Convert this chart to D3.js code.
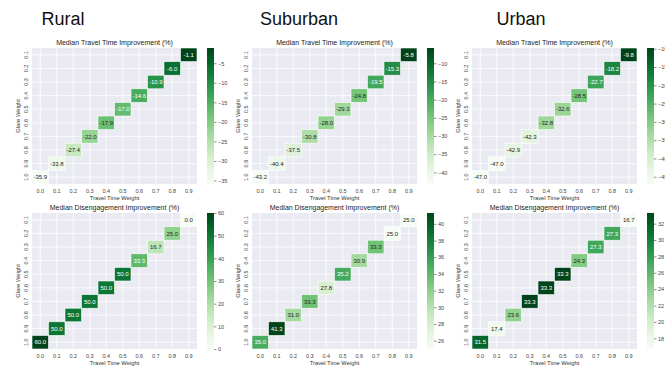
<!DOCTYPE html>
<html>
<head>
<meta charset="utf-8">
<script src="https://cdn.jsdelivr.net/npm/d3@7"></script>
<style>
  html, body { margin: 0; padding: 0; background: #fff; }
  svg { display: block; font-family: "Liberation Sans", Arial, sans-serif; }
</style>
</head>
<body>
<svg id="chart" width="665" height="366"></svg>
<script>
// Weights along each axis
const travelWeights = ["0.0", "0.1", "0.2", "0.3", "0.4", "0.5", "0.6", "0.7", "0.8", "0.9"];
const glareWeights = ["0.1", "0.2", "0.3", "0.4", "0.5", "0.6", "0.7", "0.8", "0.9", "1.0"];

const areas = ["Rural", "Suburban", "Urban"];

// Median travel time improvement (%) indexed by travel time weight 0.0 .. 0.9
const travelRural    = [-35.9, -33.8, -27.4, -22.0, -17.9, -17.0, -14.6, -10.9, -6.0, -1.1];
const travelSuburban = [-43.2, -40.4, -37.5, -30.8, -28.0, -29.3, -24.8, -19.5, -15.3, -5.8];
const travelUrban    = [-47.0, -47.0, -42.9, -42.3, -32.8, -32.6, -28.5, -22.7, -18.2, -9.8];

// Median disengagement improvement (%) indexed by travel time weight 0.0 .. 0.9
const disRural    = [60.0, 50.0, 50.0, 50.0, 50.0, 50.0, 33.3, 16.7, 25.0, 0.0];
const disSuburban = [35.0, 41.3, 31.0, 33.3, 27.8, 35.2, 30.9, 33.3, 25.0, 25.0];
const disUrban    = [31.5, 17.4, 23.6, 33.3, 33.3, 33.3, 24.3, 27.3, 27.3, 16.7];

// Colour bar tick values
const cbTicksTravelRural    = [-5, -10, -15, -20, -25, -30, -35];
const cbTicksTravelSuburban = [-10, -15, -20, -25, -30, -35, -40];
const cbTicksTravelUrban    = [-10, -15, -20, -25, -30, -35, -40, -45];
const cbTicksDisRural       = [0, 10, 20, 30, 40, 50, 60];
const cbTicksDisSuburban    = [26, 28, 30, 32, 34, 36, 38, 40];
const cbTicksDisUrban       = [18, 20, 22, 24, 26, 28, 30, 32];

const panels = [
  { col: 0, row: 0, title: "Median Travel Time Improvement (%)", values: travelRural, ticks: cbTicksTravelRural },
  { col: 1, row: 0, title: "Median Travel Time Improvement (%)", values: travelSuburban, ticks: cbTicksTravelSuburban },
  { col: 2, row: 0, title: "Median Travel Time Improvement (%)", values: travelUrban, ticks: cbTicksTravelUrban },
  { col: 0, row: 1, title: "Median Disengagement Improvement (%)", values: disRural, ticks: cbTicksDisRural },
  { col: 1, row: 1, title: "Median Disengagement Improvement (%)", values: disSuburban, ticks: cbTicksDisSuburban },
  { col: 2, row: 1, title: "Median Disengagement Improvement (%)", values: disUrban, ticks: cbTicksDisUrban }
];

const svg = d3.select("#chart");

// Layout
const plotW = 165, plotH = 136;
const colX = c => 32 + 220 * c;
const rowY = r => [48, 213][r];
const areaCenters = [63, 299, 521];

// Area headings
svg.selectAll("text.area")
  .data(areas)
  .join("text")
  .attr("class", "area")
  .attr("x", (d, i) => areaCenters[i])
  .attr("y", 25)
  .attr("text-anchor", "middle")
  .attr("font-size", 18)
  .attr("fill", "#111")
  .text(d => d);

function luminance(c) {
  const rgb = d3.rgb(c);
  const f = v => { v /= 255; return v <= 0.03928 ? v / 12.92 : Math.pow((v + 0.055) / 1.055, 2.4); };
  return 0.2126 * f(rgb.r) + 0.7152 * f(rgb.g) + 0.0722 * f(rgb.b);
}

panels.forEach(p => {
  const x0 = colX(p.col), y0 = rowY(p.row);
  const g = svg.append("g").attr("transform", `translate(${x0},${y0})`);

  const x = d3.scaleBand().domain(travelWeights).range([0, plotW]);
  const y = d3.scaleBand().domain(glareWeights).range([0, plotH]);
  const ext = d3.extent(p.values);
  const color = d3.scaleSequential(d3.interpolateGreens).domain(ext);

  // Background and grid
  g.append("rect").attr("width", plotW).attr("height", plotH).attr("fill", "#eaeaf2");
  g.selectAll("line.vg").data(travelWeights).join("line")
    .attr("x1", d => x(d) + x.bandwidth() / 2).attr("x2", d => x(d) + x.bandwidth() / 2)
    .attr("y1", 0).attr("y2", plotH).attr("stroke", "#fff").attr("stroke-width", 0.8);
  g.selectAll("line.hg").data(glareWeights).join("line")
    .attr("y1", d => y(d) + y.bandwidth() / 2).attr("y2", d => y(d) + y.bandwidth() / 2)
    .attr("x1", 0).attr("x2", plotW).attr("stroke", "#fff").attr("stroke-width", 0.8);

  // Cells: glare weight + travel weight = 1
  const cells = p.values.map((v, i) => ({ tw: travelWeights[i], gw: glareWeights[9 - i], v }));
  g.selectAll("rect.cell").data(cells).join("rect")
    .attr("x", d => x(d.tw)).attr("y", d => y(d.gw))
    .attr("width", x.bandwidth()).attr("height", y.bandwidth())
    .attr("fill", d => color(d.v))
    .attr("stroke", "#fff").attr("stroke-width", 0.6);
  g.selectAll("text.ann").data(cells).join("text")
    .attr("x", d => x(d.tw) + x.bandwidth() / 2)
    .attr("y", d => y(d.gw) + y.bandwidth() / 2)
    .attr("dy", "0.35em")
    .attr("text-anchor", "middle")
    .attr("font-size", 6)
    .attr("fill", d => luminance(color(d.v)) > 0.408 ? "#262626" : "#fff")
    .text(d => d.v.toFixed(1));

  // Axes tick labels
  g.selectAll("text.xt").data(travelWeights).join("text")
    .attr("x", d => x(d) + x.bandwidth() / 2).attr("y", plotH + 8.5)
    .attr("text-anchor", "middle").attr("font-size", 5.5).attr("fill", "#444")
    .text(d => d);
  g.selectAll("text.yt").data(glareWeights).join("text")
    .attr("transform", d => `translate(-4,${y(d) + y.bandwidth() / 2}) rotate(-90)`)
    .attr("text-anchor", "middle").attr("font-size", 5.5).attr("fill", "#444")
    .text(d => d);

  // Axis titles and panel title
  g.append("text").attr("x", plotW / 2).attr("y", plotH + 16)
    .attr("text-anchor", "middle").attr("font-size", 5.8).attr("fill", "#333")
    .text("Travel Time Weight");
  g.append("text").attr("transform", `translate(-12,${plotH / 2}) rotate(-90)`)
    .attr("text-anchor", "middle").attr("font-size", 5.8).attr("fill", "#333")
    .text("Glare Weight");
  g.append("text").attr("x", plotW / 2).attr("y", -3)
    .attr("text-anchor", "middle").attr("font-size", 7).attr("fill", "#222")
    .text(p.title);

  // Colour bar
  const cbX = 175, cbW = 7;
  const cy = d3.scaleLinear().domain(ext).range([plotH, 0]);
  const gradId = `grad-${p.row}-${p.col}`;
  const grad = svg.append("defs").append("linearGradient").attr("id", gradId)
    .attr("x1", 0).attr("y1", 1).attr("x2", 0).attr("y2", 0);
  d3.range(0, 1.0001, 0.1).forEach(t => {
    grad.append("stop").attr("offset", t).attr("stop-color", d3.interpolateGreens(t));
  });
  g.append("rect").attr("x", cbX).attr("y", 0).attr("width", cbW).attr("height", plotH)
    .attr("fill", `url(#${gradId})`);
  const cb = g.append("g").attr("transform", `translate(${cbX + cbW},0)`)
    .call(d3.axisRight(cy).tickValues(p.ticks).tickSize(2.5).tickPadding(1.5).tickFormat(d3.format("d")));
  cb.select(".domain").remove();
  cb.selectAll("line").attr("stroke", "#444").attr("stroke-width", 0.6);
  cb.selectAll("text").attr("font-size", 5.5).attr("fill", "#444").attr("font-family", "Liberation Sans, Arial, sans-serif");
});
</script>
</body>
</html>
